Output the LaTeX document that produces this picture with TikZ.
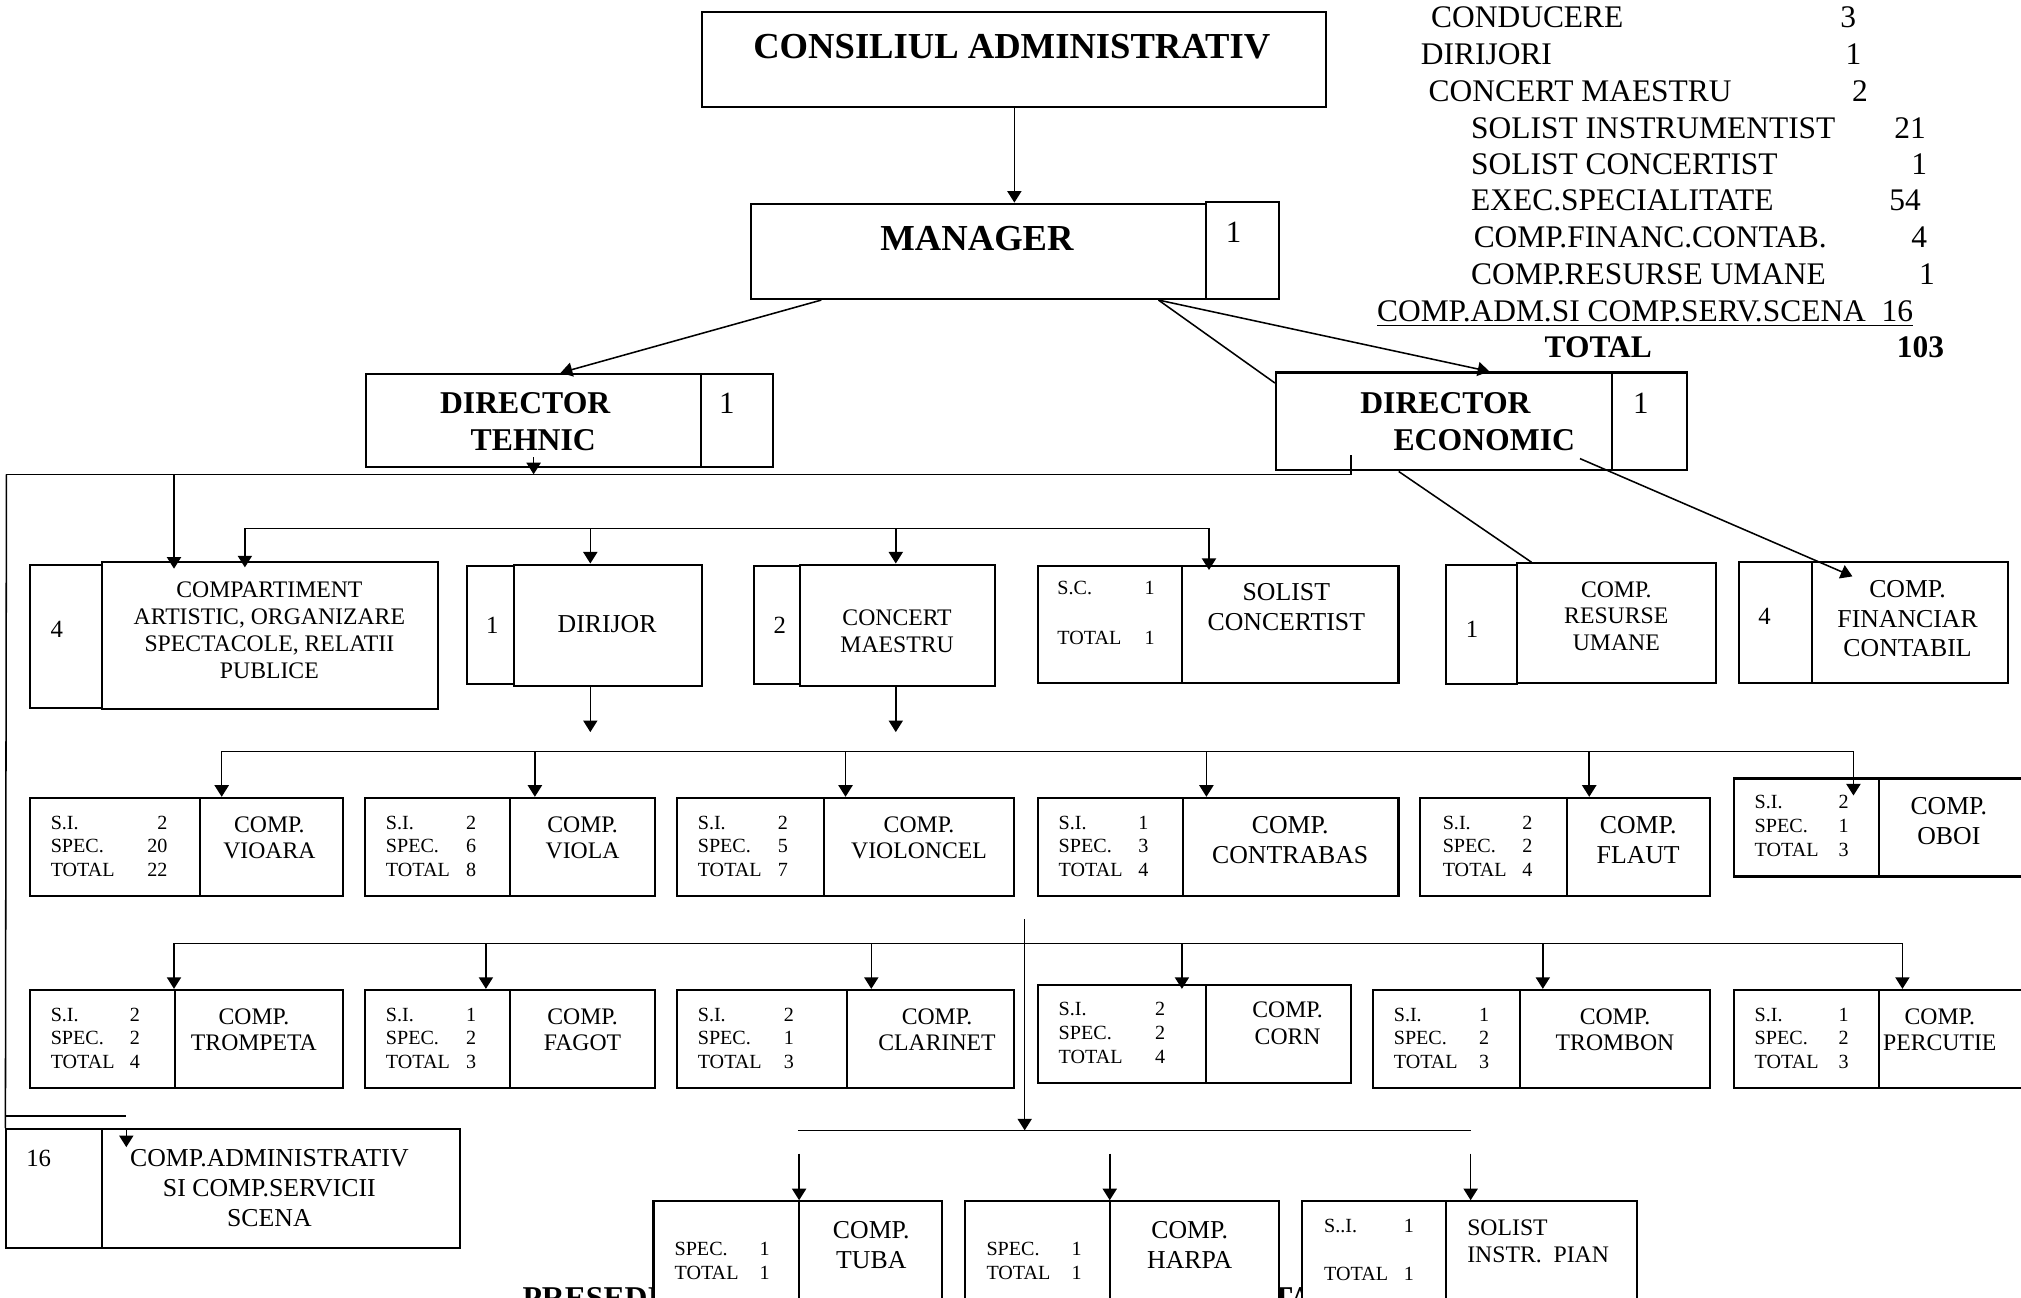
\documentclass[tikz,border=0pt]{standalone}
\usepackage{fontspec}
\setmainfont{Liberation Serif}
\usetikzlibrary{arrows.meta, fit, calc}

\begin{document}
\begin{tikzpicture}[x=0.5pt, y=-0.5pt,
        caja/.style={draw, line width=0.8pt, fill=white, inner sep=0pt},
        linea/.style={line width=0.6pt},
        flecha/.style={line width=0.6pt, -{Triangle[length=4.5pt,width=5.5pt]}},
        tit/.style={font=\bfseries\fontsize{14.2}{17}\selectfont, inner sep=0pt},
        jefe/.style={font=\bfseries\fontsize{12.3}{14.5}\selectfont, align=left, anchor=west, inner sep=0pt},
        cifra/.style={font=\fontsize{12}{14}\selectfont, inner sep=0pt},
        dig/.style={font=\fontsize{9.6}{11}\selectfont, inner sep=0pt},
        txt/.style={font=\fontsize{9.2}{10.4}\selectfont, align=center, inner sep=0pt},
        txtg/.style={font=\fontsize{10}{11.6}\selectfont, align=center, inner sep=0pt},
        mic/.style={font=\fontsize{7.8}{9.25}\selectfont, anchor=west, inner sep=0pt},
        lista/.style={font=\fontsize{12.2}{14}\selectfont, anchor=base west, inner sep=0pt},
        listan/.style={font=\fontsize{12.2}{14}\selectfont, anchor=base, inner sep=0pt}]
        \useasboundingbox (0,0) rectangle (1568,1007);

        % Texto de abajo, tapado por las cajas
        \node[jefe] (pres) at (405,1007) {PRESEDINTE};
        \node[jefe] (ta) at (986,1007) {TA};

        % Cajas de arriba
        \node[caja, fit={(545,9) (1029,83)}] (cons) {};
        \node[caja, fit={(583,158) (936,232)}] (man) {};
        \node[caja, fit={(936,157) (992,232)}] (manN) {};
        \node[caja, fit={(284,290) (544,362)}] (teh) {};
        \node[caja, fit={(544,290) (600,362)}] (tehN) {};
        \node[caja, fit={(990,289) (1251,365)}] (eco) {};
        \node[caja, fit={(1251,289) (1309,365)}] (ecoN) {};

        % Primer nivel
        \node[caja, fit={(23,438) (79,549)}] (artN) {};
        \node[caja, fit={(79,436) (340,550)}] (art) {};
        \node[caja, fit={(362,439) (399,531)}] (dirN) {};
        \node[caja, fit={(399,438) (545,532)}] (dir) {};
        \node[caja, fit={(585,439) (621,531)}] (cmN) {};
        \node[caja, fit={(621,438) (772,532)}] (cm) {};
        \node[caja, fit={(805,439) (917,530)}] (scN) {};
        \node[caja, fit={(917,439) (1085,530)}] (sc) {};
        \node[caja, fit={(1122,438) (1177,531)}] (ruN) {};
        \node[caja, fit={(1177,437) (1331,530)}] (ru) {};
        \node[caja, fit={(1349,436) (1406,530)}] (fcN) {};
        \node[caja, fit={(1406,436) (1558,530)}] (fc) {};

        % Cuerdas y oboi
        \node[caja, fit={(23,619) (155,695)}] (vioaraN) {};
        \node[caja, fit={(155,619) (266,695)}] (vioara) {};
        \node[caja, fit={(283,619) (396,695)}] (violaN) {};
        \node[caja, fit={(396,619) (508,695)}] (viola) {};
        \node[caja, fit={(525,619) (639,695)}] (violonN) {};
        \node[caja, fit={(639,619) (787,695)}] (violon) {};
        \node[caja, fit={(805,619) (918,695)}] (contraN) {};
        \node[caja, fit={(918,619) (1085,695)}] (contra) {};
        \node[caja, fit={(1102,619) (1216,695)}] (flautN) {};
        \node[caja, fit={(1216,619) (1327,695)}] (flaut) {};
        \node[caja, fit={(1345,604) (1458,680)}] (oboiN) {};
        \node[caja, fit={(1458,604) (1578,680)}] (oboi) {};

        % Vientos y percutie
        \node[caja, fit={(23,768) (136,844)}] (trompN) {};
        \node[caja, fit={(136,768) (266,844)}] (tromp) {};
        \node[caja, fit={(283,768) (396,844)}] (fagotN) {};
        \node[caja, fit={(396,768) (508,844)}] (fagot) {};
        \node[caja, fit={(525,768) (657,844)}] (clarN) {};
        \node[caja, fit={(657,768) (787,844)}] (clar) {};
        \node[caja, fit={(805,764) (936,840)}] (cornN) {};
        \node[caja, fit={(936,764) (1048,840)}] (corn) {};
        \node[caja, fit={(1065,768) (1179,844)}] (trombN) {};
        \node[caja, fit={(1179,768) (1327,844)}] (tromb) {};
        \node[caja, fit={(1345,768) (1458,844)}] (percN) {};
        \node[caja, fit={(1458,768) (1578,844)}] (perc) {};

        % Abajo
        \node[caja, fit={(5,876) (79,968)}] (admN) {};
        \node[caja, fit={(79,876) (357,968)}] (adm) {};
        \node[caja, fit={(507,932) (620,1014)}] (tubaN) {};
        \node[caja, fit={(620,932) (731,1014)}] (tuba) {};
        \node[caja, fit={(749,932) (861,1014)}] (harpaN) {};
        \node[caja, fit={(861,932) (992,1014)}] (harpa) {};
        \node[caja, fit={(1010,932) (1122,1014)}] (pianN) {};
        \node[caja, fit={(1122,932) (1270,1014)}] (pian) {};

        % Textos de las cajas de arriba
        \node[tit] (consT) at (785,36) {CONSILIUL ADMINISTRATIV};
        \node[tit] (manT) at (758,185) {MANAGER};
        \node[cifra] (manNT) at (957,180) {1};
        \node[jefe] (tehT) at (341,327) {DIRECTOR\\\hspace*{11.9pt}TEHNIC};
        \node[cifra] (tehNT) at (564,313) {1};
        \node[jefe] (ecoT) at (1055,327) {DIRECTOR\\\hspace*{12.9pt}ECONOMIC};
        \node[cifra] (ecoNT) at (1273,313) {1};

        % Textos del primer nivel
        \node[dig] (artNT) at (44,488) {4};
        \node[txt] (artT) at (209,489) {COMPARTIMENT\\ARTISTIC, ORGANIZARE\\SPECTACOLE, RELATII\\PUBLICE};
        \node[dig] (dirNT) at (382,485) {1};
        \node[txtg] (dirT) at (471,484) {DIRIJOR};
        \node[dig] (cmNT) at (605,485) {2};
        \node[txt] (cmT) at (696,490) {CONCERT\\MAESTRU};
        \node[mic] (scNT) at (820,477) {\begin{tabular}{@{}l@{\hspace{9pt}}r@{}}S.C. & 1\\[10pt] TOTAL & 1\end{tabular}};
        \node[txtg] (scT) at (998,471) {SOLIST\\CONCERTIST};
        \node[dig] (ruNT) at (1142,488) {1};
        \node[txt] (ruT) at (1254,478) {COMP.\\RESURSE\\UMANE};
        \node[dig] (fcNT) at (1369,478) {4};
        \node[txtg] (fcT) at (1480,480) {COMP.\\FINANCIAR\\CONTABIL};

        % Textos de cuerdas
        \node[mic] (vioaraNT) at (39,658) {\begin{tabular}{@{}l@{\hspace{12.7pt}}r@{}}S.I. & 2\\SPEC. & 20\\TOTAL & 22\end{tabular}};
        \node[txt] (vioaraT) at (209,650) {COMP.\\VIOARA};
        \node[mic] (violaNT) at (299,658) {\begin{tabular}{@{}l@{\hspace{6.3pt}}r@{}}S.I. & 2\\SPEC. & 6\\TOTAL & 8\end{tabular}};
        \node[txt] (violaT) at (452,650) {COMP.\\VIOLA};
        \node[mic] (violonNT) at (541,658) {\begin{tabular}{@{}l@{\hspace{6.3pt}}r@{}}S.I. & 2\\SPEC. & 5\\TOTAL & 7\end{tabular}};
        \node[txt] (violonT) at (713,650) {COMP.\\VIOLONCEL};
        \node[mic] (contraNT) at (821,658) {\begin{tabular}{@{}l@{\hspace{6.1pt}}r@{}}S.I. & 1\\SPEC. & 3\\TOTAL & 4\end{tabular}};
        \node[txtg] (contraT) at (1001,652) {COMP.\\CONTRABAS};
        \node[mic] (flautNT) at (1119,658) {\begin{tabular}{@{}l@{\hspace{6.1pt}}r@{}}S.I. & 2\\SPEC. & 2\\TOTAL & 4\end{tabular}};
        \node[txtg] (flautT) at (1271,652) {COMP.\\FLAUT};
        \node[mic] (oboiNT) at (1361,642) {\begin{tabular}{@{}l@{\hspace{7.8pt}}r@{}}S.I. & 2\\SPEC. & 1\\TOTAL & 3\end{tabular}};
        \node[txtg] (oboiT) at (1512,637) {COMP.\\OBOI};

        % Textos de vientos
        \node[mic] (trompNT) at (39,807) {\begin{tabular}{@{}l@{\hspace{5.9pt}}r@{}}S.I. & 2\\SPEC. & 2\\TOTAL & 4\end{tabular}};
        \node[txt] (trompT) at (197,799) {COMP.\\TROMPETA};
        \node[mic] (fagotNT) at (299,807) {\begin{tabular}{@{}l@{\hspace{6.3pt}}r@{}}S.I. & 1\\SPEC. & 2\\TOTAL & 3\end{tabular}};
        \node[txt] (fagotT) at (452,799) {COMP.\\FAGOT};
        \node[mic] (clarNT) at (541,807) {\begin{tabular}{@{}l@{\hspace{8.6pt}}r@{}}S.I. & 2\\SPEC. & 1\\TOTAL & 3\end{tabular}};
        \node[txt] (clarT) at (727,799) {COMP.\\CLARINET};
        \node[mic] (cornNT) at (821,803) {\begin{tabular}{@{}l@{\hspace{12.6pt}}r@{}}S.I. & 2\\SPEC. & 2\\TOTAL & 4\end{tabular}};
        \node[txt] (cornT) at (999,794) {COMP.\\CORN};
        \node[mic] (trombNT) at (1081,807) {\begin{tabular}{@{}l@{\hspace{8.3pt}}r@{}}S.I. & 1\\SPEC. & 2\\TOTAL & 3\end{tabular}};
        \node[txt] (trombT) at (1253,799) {COMP.\\TROMBON};
        \node[mic] (percNT) at (1361,807) {\begin{tabular}{@{}l@{\hspace{7.8pt}}r@{}}S.I. & 1\\SPEC. & 2\\TOTAL & 3\end{tabular}};
        \node[txt] (percT) at (1505,799) {COMP.\\PERCUTIE};

        % Textos de abajo
        \node[dig] (admNT) at (30,899) {16};
        \node[txtg] (admT) at (209,922) {COMP.ADMINISTRATIV\\SI COMP.SERVICII\\SCENA};
        \node[mic] (tubaNT) at (523,980) {\begin{tabular}{@{}l@{\hspace{8.2pt}}r@{}}SPEC. & 1\\TOTAL & 1\end{tabular}};
        \node[txtg] (tubaT) at (676,966) {COMP.\\TUBA};
        \node[mic] (harpaNT) at (765,980) {\begin{tabular}{@{}l@{\hspace{8.2pt}}r@{}}SPEC. & 1\\TOTAL & 1\end{tabular}};
        \node[txtg] (harpaT) at (923,966) {COMP.\\HARPA};
        \node[mic] (pianNT) at (1027,971) {\begin{tabular}{@{}l@{\hspace{6.1pt}}r@{}}S..I. & 1\\[9.4pt] TOTAL & 1\end{tabular}};
        \node[txt, align=left, anchor=west] (pianT) at (1138,963) {SOLIST\\INSTR.~~PIAN};

        % Lista de personal
        \node[lista] (l1) at (1110,21.5) {CONDUCERE};
        \node[listan] (n1) at (1434,21.5) {3};
        \node[lista] (l2) at (1102,50) {DIRIJORI};
        \node[listan] (n2) at (1438,50) {1};
        \node[lista] (l3) at (1108,78.4) {CONCERT MAESTRU};
        \node[listan] (n3) at (1443,78.4) {2};
        \node[lista] (l4) at (1141,107.7) {SOLIST INSTRUMENTIST};
        \node[listan] (n4) at (1482,107.7) {21};
        \node[lista] (l5) at (1141,135.6) {SOLIST CONCERTIST};
        \node[listan] (n5) at (1489,135.6) {1};
        \node[lista] (l6) at (1141,163.1) {EXEC.SPECIALITATE};
        \node[listan] (n6) at (1478,163.1) {54};
        \node[lista] (l7) at (1143,192.1) {COMP.FINANC.CONTAB.};
        \node[listan] (n7) at (1489,192.1) {4};
        \node[lista] (l8) at (1141,220.7) {COMP.RESURSE UMANE};
        \node[listan] (n8) at (1495,220.7) {1};
        \node[lista] (l9) at (1068,249.1) {\underline{COMP.ADM.SI COMP.SERV.SCENA\ \ 16}};
        \node[listan, font=\bfseries\fontsize{12.2}{14}\selectfont] (l10) at (1240,277.4) {TOTAL};
        \node[listan, font=\bfseries\fontsize{12.2}{14}\selectfont] (n10) at (1490,277.4) {103};

        % Conexiones de arriba
        \draw[flecha] (cons.south) -- (cons.south |- man.north);
        \draw[flecha] ($(man.south west)+(55,0)$) -- ($(teh.north)+(21,0)$);
        \draw[linea] ($(man.south east)+(-38,0)$) -- ($(eco.north west)+(0,9)$);
        \draw[flecha] ($(man.south east)+(-38,0)$) -- ($(eco.north)+(35,0)$);

        % Linea del director tehnic
        \coordinate (t1) at (5,368);
        \coordinate (t2) at (1048,368);
        \coordinate (t3) at (1048,353);
        \coordinate (t4) at (135,368);
        \coordinate (s1) at (98,866);
        \coordinate (f3) at (98,890);
        \draw[flecha] ($(teh.south)+(0,-8)$) -- (teh.south |- t1);
        \draw[linea] (t1) -- (t2) -- (t3);
        \draw[linea] (t1) -- (admN.north west);
        \draw[linea] (t1 |- s1) -- (s1);
        \draw[flecha] (s1 |- adm.north) -- (f3);
        \draw[flecha] (t4) -- ($(t4 |- art.north)+(0,6)$);

        % Primer nivel
        \coordinate (pArt) at (190,410);
        \coordinate (pDir) at (458,410);
        \coordinate (pCm) at (695,410);
        \coordinate (pSc) at (938,410);
        \coordinate (qDir) at (458,568);
        \coordinate (qCm) at (695,568);
        \draw[linea] (pArt) -- (pSc);
        \draw[flecha] (pArt) -- ($(pArt |- art.north)+(0,5)$);
        \draw[flecha] (pDir) -- (pDir |- dir.north);
        \draw[flecha] (pCm) -- (pCm |- cm.north);
        \draw[flecha] (pSc) -- ($(pSc |- sc.north)+(0,4)$);
        \draw[flecha] (pDir |- dir.south) -- (qDir);
        \draw[flecha] (pCm |- cm.south) -- (qCm);
        \draw[linea] ($(eco.south west)+(96,0)$) -- ($(ru.north west)+(12,0)$);
        \draw[flecha] ($(eco.south east)+(-26,-10)$) -- ($(fc.north west)+(32,12)$);

        % Cuerdas
        \coordinate (pVioara) at (172,583);
        \coordinate (pViola) at (415,583);
        \coordinate (pViolon) at (656,583);
        \coordinate (pContra) at (936,583);
        \coordinate (pFlaut) at (1233,583);
        \coordinate (pOboi) at (1438,583);
        \draw[linea] (pVioara) -- (pOboi);
        \draw[flecha] (pVioara) -- (pVioara |- vioara.north);
        \draw[flecha] (pViola) -- (pViola |- viola.north);
        \draw[flecha] (pViolon) -- (pViolon |- violon.north);
        \draw[flecha] (pContra) -- (pContra |- contra.north);
        \draw[flecha] (pFlaut) -- (pFlaut |- flaut.north);
        \draw[flecha] (pOboi) -- ($(pOboi |- oboiN.north)+(0,14)$);

        % Vientos
        \coordinate (pTromp) at (135,732);
        \coordinate (pFagot) at (377,732);
        \coordinate (pClar) at (676,732);
        \coordinate (pCorn) at (917,732);
        \coordinate (pTromb) at (1197,732);
        \coordinate (pPerc) at (1476,732);
        \draw[linea] (pTromp) -- (pPerc);
        \draw[flecha] (pTromp) -- (pTromp |- tromp.north);
        \draw[flecha] (pFagot) -- (pFagot |- fagotN.north);
        \draw[flecha] (pClar) -- (pClar |- clar.north);
        \draw[flecha] (pCorn) -- ($(pCorn |- cornN.north)+(0,4)$);
        \draw[flecha] (pTromb) -- (pTromb |- tromb.north);
        \draw[flecha] (pPerc) -- (pPerc |- perc.north);

        % Tuba, harpa, pian
        \coordinate (v1) at (795,713);
        \coordinate (d1) at (619,877);
        \coordinate (d2) at (1141,877);
        \coordinate (pTuba) at (620,895);
        \coordinate (pHarpa) at (861,895);
        \coordinate (pPian) at (1141,895);
        \draw[linea] (d1) -- (d2);
        \draw[flecha] (v1) -- (v1 |- d1);
        \draw[flecha] (pTuba) -- (pTuba |- tuba.north);
        \draw[flecha] (pHarpa) -- (pHarpa |- harpa.north);
        \draw[flecha] (pPian) -- (pPian |- pian.north);
    \end{tikzpicture}
\end{document}
